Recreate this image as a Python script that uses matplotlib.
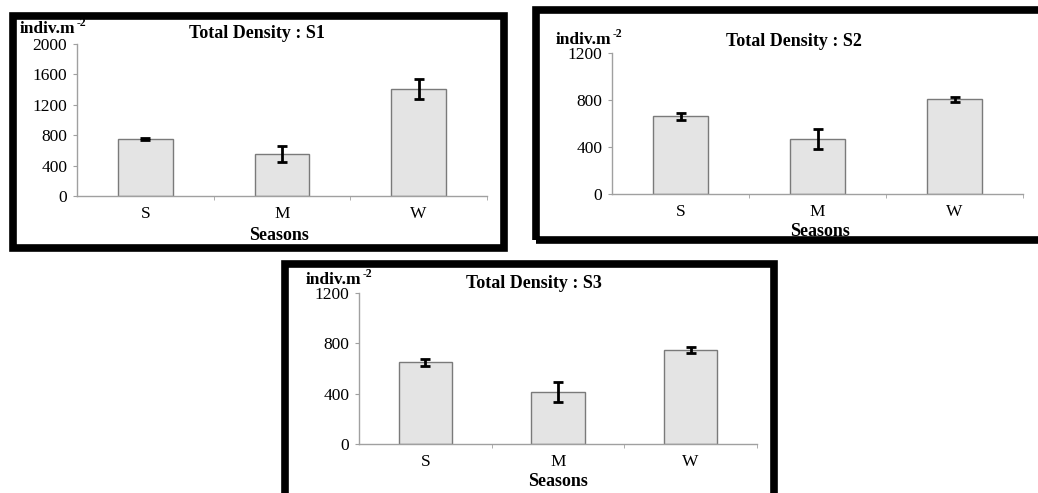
import numpy as np
import matplotlib.pyplot as plt
from matplotlib.patches import Rectangle

plt.rcParams['font.family'] = ['Liberation Serif', 'DejaVu Serif']

# data
seasons = ['S', 'M', 'W']
s1_density = [750, 556, 1410]
s1_err = [15, 105, 135]
s2_density = [660, 467, 806]
s2_err = [28, 84, 20]
s3_density = [648, 412, 748]
s3_err = [27, 80, 22]

W, H = 1038, 493
fig = plt.figure(figsize=(W / 100, H / 100), dpi=100)


def px(x, y):
    # pixel (from top-left) -> figure fraction
    return x / W, 1 - y / H


def panel(box, axpos, vals, errs, ymax, title, txt):
    # black frame round each chart
    x0, y0, x1, y1 = box
    fig.patches.append(Rectangle(px(x0, y1), (x1 - x0) / W, (y1 - y0) / H,
                                 transform=fig.transFigure, fill=False,
                                 edgecolor='black', linewidth=5.5, zorder=10))
    l, r, b, t = axpos
    ax = fig.add_axes([l / W, 1 - b / H, (r - l) / W, (b - t) / H])
    xs = np.arange(len(seasons))
    ax.bar(xs, vals, width=0.4, color='#e4e4e4', edgecolor='#7a7a7a', linewidth=1.0)
    ax.errorbar(xs, vals, yerr=errs, fmt='none', ecolor='black', elinewidth=2,
                capsize=3.5, capthick=2)
    ax.set_xlim(-0.5, 2.5)
    ax.set_ylim(0, ymax)
    ax.set_yticks(np.arange(0, ymax + 1, 400))
    ax.set_xticks(xs)
    ax.set_xticklabels(seasons)
    ax.set_xticks([0.5, 1.5, 2.5], minor=True)
    ax.tick_params(axis='x', which='major', length=0, pad=7, labelsize=12.5)
    ax.tick_params(axis='x', which='minor', length=3, color='#a0a0a0', direction='out')
    ax.tick_params(axis='y', length=3, color='#a0a0a0', labelsize=12.5, pad=4)
    for sp in ['top', 'right']:
        ax.spines[sp].set_visible(False)
    for sp in ['left', 'bottom']:
        ax.spines[sp].set_color('#a0a0a0')
        ax.spines[sp].set_linewidth(1.0)
    (ux, uy), (tx, ty), (sx, sy) = txt
    unit = fig.text(*px(ux, uy), 'indiv.m', fontsize=12.5, fontweight='bold',
                    ha='left', va='center')
    # superscript sits just right of the unit text
    ax.annotate('-2', xy=(1.0, 1.0), xycoords=unit, fontsize=8.5, fontweight='bold',
                ha='left', va='top', xytext=(1, 3), textcoords='offset points',
                annotation_clip=False)
    fig.text(*px(tx, ty), title, fontsize=13, fontweight='bold', ha='center', va='center')
    fig.text(*px(sx, sy), 'Seasons', fontsize=13, fontweight='bold', ha='center', va='center')
    return ax


panel((13, 16, 504, 248), (77, 487, 196, 44), s1_density, s1_err, 2000,
      'Total Density : S1', ((20, 29), (257, 33), (279, 235)))
panel((536, 10, 1042, 240), (612, 1023, 194, 53), s2_density, s2_err, 1200,
      'Total Density : S2', ((556, 40), (794, 41), (820, 231)))
panel((285, 264, 774, 496), (359, 757, 444, 293), s3_density, s3_err, 1200,
      'Total Density : S3', ((306, 280), (534, 283), (558, 481)))

fig.savefig('out.png', dpi=100)
